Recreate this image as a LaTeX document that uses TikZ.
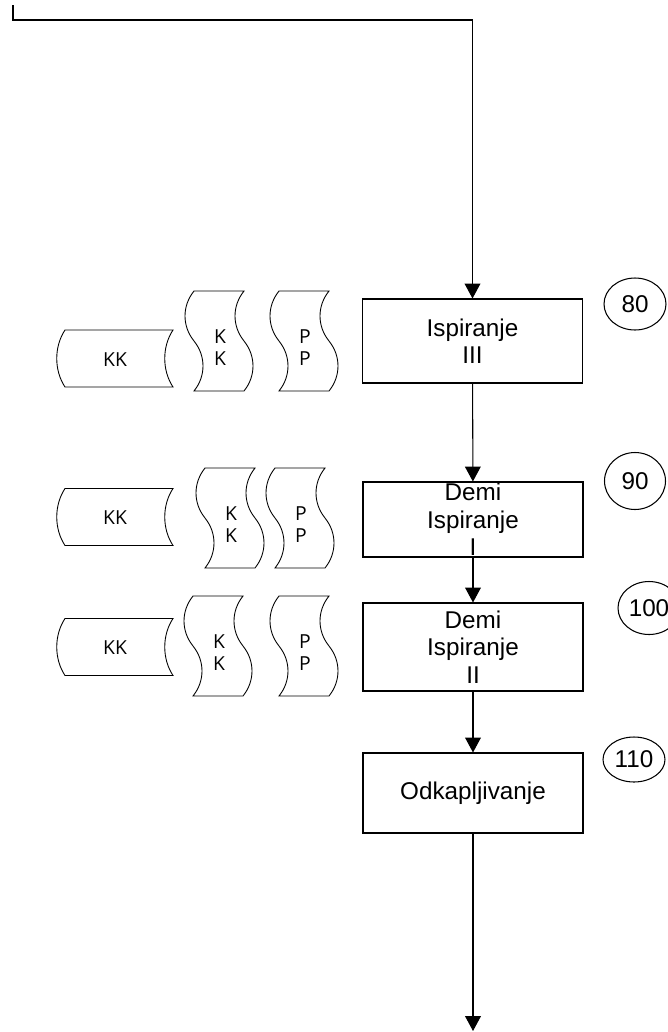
\documentclass[tikz,border=0pt]{standalone}
\usepackage{fontspec}
\setmainfont{Liberation Sans}
\newfontfamily\tapefont{Open Sans}
\usetikzlibrary{arrows.meta,shapes.geometric}

\tikzset{
    stepbox/.style={draw, line width=0.6pt, minimum width=4.4cm, inner sep=0pt,
        align=center, font=\fontsize{13.8}{15.6}\selectfont},
    stepno/.style={draw, ellipse, line width=0.6pt, inner sep=0pt,
        font=\fontsize{13.8}{15}\selectfont},
    flow/.style={line width=0.6pt, -{Triangle[width=9pt,length=8.5pt]}},
    tapetext/.style={align=center, inner sep=0pt,
        font=\tapefont\fontsize{11}{12.5}\selectfont},
    pics/storeddata/.style={code={
        \draw[line width=0.5pt] (-50,-28.5) -- (58,-28.5)
            .. controls (47,-12) and (47,12) .. (58,28.5) -- (-50,28.5)
            .. controls (-61,12) and (-61,-12) .. (-50,-28.5) -- cycle;
        \node[tapetext] (-txt) at (0,1) {#1};
    }},
    pics/tape/.style={code={
        \draw[line width=0.5pt] (-25,-50)
            .. controls (-37,-35) and (-37,-15) .. (-25,0)
            .. controls (-13,15) and (-13,35) .. (-25,50) -- (25,50)
            .. controls (37,35) and (37,15) .. (25,0)
            .. controls (13,-15) and (13,-35) .. (25,-50) -- cycle;
        \node[tapetext] (-txt) at (1,7) {#1};
    }},
}

\begin{document}
\begin{tikzpicture}[x=0.02cm, y=-0.02cm]
    \useasboundingbox (0,0) rectangle (667,1032);

    % process steps
    \node[stepbox, minimum height=1.68cm] (isp3)  at (472.5,341) {Ispiranje\\III};
    \node[stepbox, minimum height=1.5cm]  (demi1) at (473,519.5) {Demi\\Ispiranje\\I};
    \node[stepbox, minimum height=1.76cm] (demi2) at (473,647)   {Demi\\Ispiranje\\II};
    \node[stepbox, minimum height=1.6cm]  (odk)   at (473,793)   {Odkapljivanje};

    % step numbers
    \node[stepno, minimum width=1.24cm, minimum height=1.04cm] (n80)  at (635,304)   {80};
    \node[stepno, minimum width=1.22cm, minimum height=1.14cm] (n90)  at (635,481)   {90};
    \node[stepno, minimum width=1.24cm, minimum height=1.06cm] (n100) at (649,608)   {100};
    \node[stepno, minimum width=1.24cm, minimum height=0.9cm]  (n110) at (634,759.5) {110};

    % inputs on the left
    \pic (kk1) at (115,358.5) {storeddata=KK};
    \pic (kk2) at (115,517)   {storeddata=KK};
    \pic (kk3) at (115,647)   {storeddata=KK};

    \pic (k1) at (219,341) {tape={K\\K}};
    \pic (p1) at (304,341) {tape={P\\P}};
    \pic (k2) at (230,518) {tape={K\\K}};
    \pic (p2) at (300,518) {tape={P\\P}};
    \pic (k3) at (218,646) {tape={K\\K}};
    \pic (p3) at (304,646) {tape={P\\P}};

    % flow lines
    \coordinate (start)  at (13,5);
    \coordinate (corner) at (isp3.north |- 0,20);
    \coordinate (out)    at (473,1031);

    \draw[flow] (start) |- (corner) -- (isp3.north);
    \draw[flow] (isp3) -- (demi1);
    \draw[flow] (demi1) -- (demi2);
    \draw[flow] (demi2) -- (odk);
    \draw[flow] (odk) -- (out);

\end{tikzpicture}
\end{document}
